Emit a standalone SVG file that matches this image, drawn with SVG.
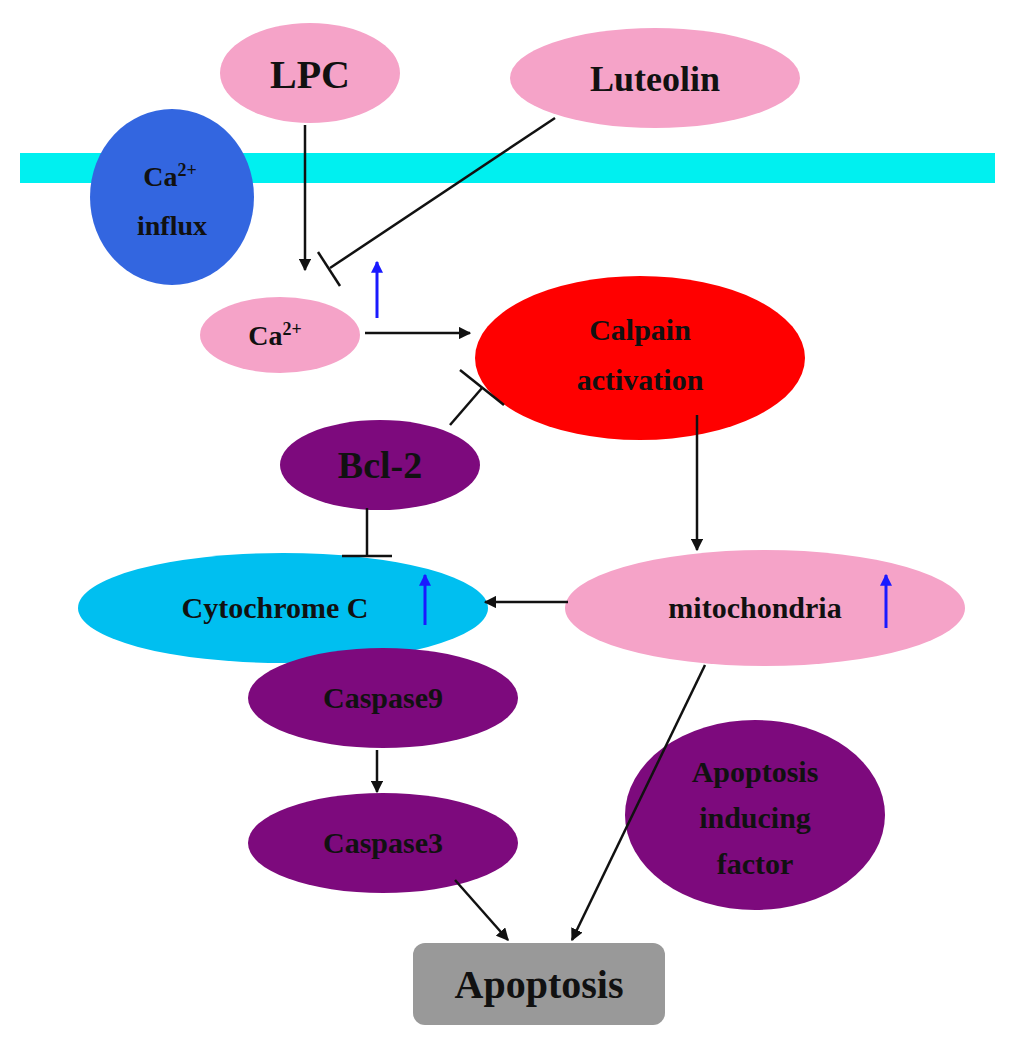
<svg xmlns="http://www.w3.org/2000/svg" width="1024" height="1055" viewBox="0 0 1024 1055">
<defs>
<style>
text{font-family:"Liberation Serif","Times New Roman",serif;font-weight:bold;text-anchor:middle;fill:#111}
.pink{fill:#F5A3C8}.purple{fill:#7D0A7D}
.ln{stroke:#111;stroke-width:2.5;fill:none}
.bl{stroke:#1a1aff;stroke-width:3;fill:none}
</style>
<marker id="ah" viewBox="0 0 10 10" refX="9" refY="5" markerWidth="5" markerHeight="5" orient="auto"><path d="M0,0L10,5L0,10z" fill="#111"/></marker>
<marker id="bh" viewBox="0 0 10 10" refX="9" refY="5" markerWidth="4" markerHeight="5" orient="auto"><path d="M0,0L10,5L0,10z" fill="#1a1aff"/></marker>
</defs>
<rect x="20" y="153" width="975" height="30" fill="#00F0F0"/>
<g id="lpc"><ellipse class="pink" cx="310" cy="73" rx="90" ry="50"/><text x="310" y="88" font-size="40">LPC</text></g>
<g id="luteolin"><ellipse class="pink" cx="655" cy="78" rx="145" ry="50"/><text x="655" y="91" font-size="36">Luteolin</text></g>
<g id="influx"><ellipse cx="172" cy="197" rx="82" ry="88" fill="#3366E0"/><text x="170" y="186" font-size="28">Ca<tspan font-size="18" dy="-10">2+</tspan></text><text x="172" y="235" font-size="28">influx</text></g>
<g id="ca"><ellipse class="pink" cx="280" cy="335" rx="80" ry="38"/><text x="275" y="345" font-size="28">Ca<tspan font-size="18" dy="-10">2+</tspan></text></g>
<g id="calpain"><ellipse cx="640" cy="358" rx="165" ry="82" fill="#FF0000"/><text x="640" y="340" font-size="30">Calpain</text><text x="640" y="390" font-size="30">activation</text></g>
<g id="bcl2"><ellipse class="purple" cx="380" cy="465" rx="100" ry="45"/><text x="380" y="478" font-size="38">Bcl-2</text></g>
<g id="cyto"><ellipse cx="283" cy="608" rx="205" ry="55" fill="#00BFF0"/><text x="275" y="618" font-size="30">Cytochrome C</text></g>
<g id="mito"><ellipse class="pink" cx="765" cy="608" rx="200" ry="58" /><text x="755" y="618" font-size="30">mitochondria</text></g>
<g id="casp9"><ellipse class="purple" cx="383" cy="698" rx="135" ry="50"/><text x="383" y="708" font-size="30">Caspase9</text></g>
<g id="casp3"><ellipse class="purple" cx="383" cy="843" rx="135" ry="50"/><text x="383" y="853" font-size="30">Caspase3</text></g>
<g id="aif"><ellipse class="purple" cx="755" cy="815" rx="130" ry="95"/><text x="755" y="782" font-size="30">Apoptosis</text><text x="755" y="828" font-size="30">inducing</text><text x="755" y="874" font-size="30">factor</text></g>
<g id="apoptosis"><rect x="413" y="943" width="252" height="82" rx="12" fill="#999"/><text x="539" y="998" font-size="40">Apoptosis</text></g>
<g id="connectors">
<line class="ln" x1="305" y1="125" x2="305" y2="270" marker-end="url(#ah)"/>
<line class="ln" x1="555" y1="118" x2="330" y2="268"/>
<line class="ln" stroke-width="3.5" x1="318" y1="252" x2="340" y2="286"/>
<line class="bl" x1="377" y1="318" x2="377" y2="262" marker-end="url(#bh)"/>
<line class="ln" stroke-width="1.5" x1="365" y1="333" x2="470" y2="333" marker-end="url(#ah)"/>
<line class="ln" x1="450" y1="425" x2="482" y2="388"/>
<line class="ln" stroke-width="3.5" x1="460" y1="370" x2="504" y2="405"/>
<line class="ln" x1="697" y1="415" x2="697" y2="550" marker-end="url(#ah)"/>
<line class="ln" x1="367" y1="508" x2="367" y2="555"/>
<line class="ln" stroke-width="3.5" x1="342" y1="556" x2="392" y2="556"/>
<line class="ln" x1="568" y1="602" x2="485" y2="602" marker-end="url(#ah)"/>
<line class="bl" x1="425" y1="625" x2="425" y2="575" marker-end="url(#bh)"/>
<line class="bl" x1="886" y1="628" x2="886" y2="575" marker-end="url(#bh)"/>
<line class="ln" x1="377" y1="750" x2="377" y2="792" marker-end="url(#ah)"/>
<line class="ln" x1="455" y1="880" x2="508" y2="940" marker-end="url(#ah)"/>
<line class="ln" x1="705" y1="665" x2="572" y2="940" marker-end="url(#ah)"/>
</g>
</svg>
